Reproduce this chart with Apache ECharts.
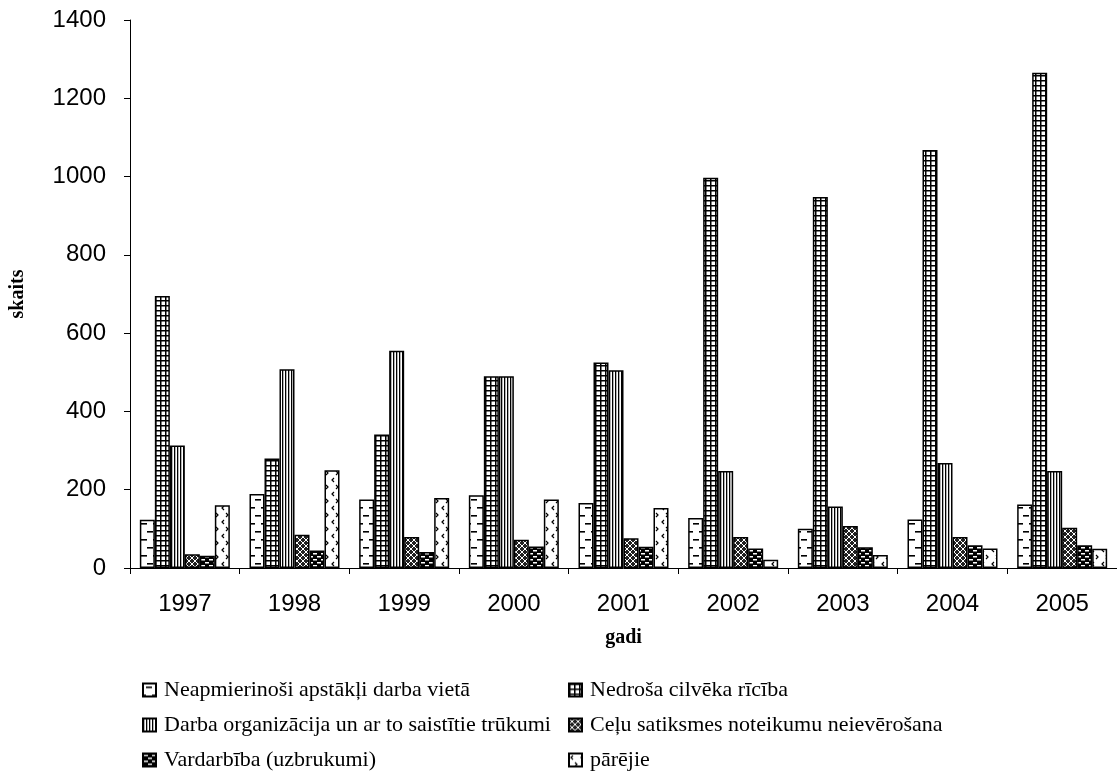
<!DOCTYPE html>
<html>
<head>
<meta charset="utf-8">
<script src="https://cdn.jsdelivr.net/npm/echarts@6/dist/echarts.min.js"></script>
<style>
  html, body { margin: 0; padding: 0; background: #fff; }
  #chart { width: 1117px; height: 783px; }
</style>
</head>
<body>
<div id="chart"></div>
<script>
// ---- data ----
const years = ['1997', '1998', '1999', '2000', '2001', '2002', '2003', '2004', '2005'];
const seriesNames = [
  'Neapmierinoši apstākļi darba vietā',
  'Nedroša cilvēka rīcība',
  'Darba organizācija un ar to saistītie trūkumi',
  'Ceļu satiksmes noteikumu neievērošana',
  'Vardarbība (uzbrukumi)',
  'pārējie'
];
const neapmierinosi = [123, 189, 175, 186, 166, 128, 100, 124, 162];
const nedrosa       = [695, 280, 341, 490, 525, 997, 948, 1068, 1265];
const darbaOrg      = [313, 508, 555, 490, 505, 248, 157, 268, 248];
const celu          = [35, 85, 79, 72, 76, 79, 107, 79, 103];
const vardarbiba    = [31, 45, 41, 55, 54, 50, 53, 58, 58];
const parejie       = [160, 250, 179, 175, 153, 21, 33, 50, 49];
const yTicks = [0, 200, 400, 600, 800, 1000, 1200, 1400];

// ---- patterns ----
function tile(w, h, draw) {
  const c = document.createElement('canvas');
  c.width = w; c.height = h;
  const g = c.getContext('2d');
  draw(g, w, h);
  return { image: c, repeat: 'repeat' };
}
const patDash = tile(12, 16, (g) => {
  g.fillStyle = '#fff'; g.fillRect(0, 0, 12, 16);
  g.fillStyle = '#000';
  g.fillRect(3, 3, 6, 1.6);
  g.fillRect(0, 11, 3, 1.6);
  g.fillRect(9, 11, 3, 1.6);
});
const patGrid = tile(5, 5, (g) => {
  g.fillStyle = '#fff'; g.fillRect(0, 0, 5, 5);
  g.fillStyle = '#000';
  g.fillRect(0, 0, 5, 1.5);
  g.fillRect(0, 0, 1.5, 5);
});
const patVert = tile(3, 4, (g) => {
  g.fillStyle = '#fff'; g.fillRect(0, 0, 3, 4);
  g.fillStyle = '#000';
  g.fillRect(0, 0, 1.3, 4);
});
const patCross = tile(6, 6, (g) => {
  g.fillStyle = '#222'; g.fillRect(0, 0, 6, 6);
  g.strokeStyle = '#fff'; g.lineWidth = 1;
  g.beginPath();
  g.moveTo(0, 0); g.lineTo(6, 6);
  g.moveTo(6, 0); g.lineTo(0, 6);
  g.stroke();
});
const patBrick = tile(8, 6, (g) => {
  g.fillStyle = '#000'; g.fillRect(0, 0, 8, 6);
  g.fillStyle = '#fff';
  g.fillRect(1, 1, 4, 1.5);
  g.fillRect(5, 4, 3, 1.5);
  g.fillRect(0, 4, 1, 1.5);
});
const patArrow = tile(10, 14, (g) => {
  g.fillStyle = '#fff'; g.fillRect(0, 0, 10, 14);
  g.strokeStyle = '#000'; g.lineWidth = 1.2;
  g.beginPath();
  g.moveTo(4, 2); g.lineTo(2, 4); g.lineTo(4, 6);
  g.moveTo(6, 9); g.lineTo(8, 11); g.lineTo(6, 13);
  g.stroke();
});
const patterns = [patDash, patGrid, patVert, patCross, patBrick, patArrow];
const values = [neapmierinosi, nedrosa, darbaOrg, celu, vardarbiba, parejie];

const serif = '"Liberation Serif", "Times New Roman", serif';
const sans = '"Liberation Sans", Arial, sans-serif';

const chart = echarts.init(document.getElementById('chart'), null, { renderer: 'canvas' });
chart.setOption({
  backgroundColor: '#fff',
  animation: false,
  grid: { left: 124, top: 20, width: 996, height: 548, containLabel: false },
  xAxis: {
    type: 'category',
    data: years,
    name: 'gadi',
    nameLocation: 'middle',
    nameGap: 60,
    nameTextStyle: { fontFamily: serif, fontWeight: 'bold', fontSize: 20, color: '#000', verticalAlign: 'top' },
    axisLine: { lineStyle: { color: '#000', width: 1 } },
    axisTick: { show: true, length: 6, lineStyle: { color: '#000' } },
    axisLabel: { fontFamily: sans, fontSize: 24, color: '#000', margin: 24 }
  },
  yAxis: {
    type: 'value',
    min: 0, max: 1400, interval: 200,
    name: 'skaits',
    nameLocation: 'middle',
    nameGap: 102,
    nameTextStyle: { fontFamily: serif, fontWeight: 'bold', fontSize: 20, color: '#000' },
    axisLine: { show: true, lineStyle: { color: '#000', width: 1 } },
    axisTick: { show: true, length: 6, lineStyle: { color: '#000' } },
    splitLine: { show: false },
    axisLabel: { fontFamily: sans, fontSize: 24, color: '#000', margin: 24,
      formatter: (v) => yTicks.includes(v) ? String(v) : '' }
  },
  legend: [
    {
      data: [seriesNames[0], seriesNames[2], seriesNames[4]],
      orient: 'vertical', left: 137, top: 674, itemGap: 13,
      itemWidth: 13, itemHeight: 13, icon: 'rect', selectedMode: false,
      textStyle: { fontFamily: serif, fontSize: 22, color: '#000', lineHeight: 22, padding: [0, 0, 0, 3] }
    },
    {
      data: [seriesNames[1], seriesNames[3], seriesNames[5]],
      orient: 'vertical', left: 563, top: 674, itemGap: 13,
      itemWidth: 13, itemHeight: 13, icon: 'rect', selectedMode: false,
      textStyle: { fontFamily: serif, fontSize: 22, color: '#000', lineHeight: 22, padding: [0, 0, 0, 3] }
    }
  ],
  series: seriesNames.map((n, i) => ({
    name: n,
    type: 'bar',
    data: values[i],
    barWidth: 15,
    barGap: '0%',
    itemStyle: { color: patterns[i], borderColor: '#000', borderWidth: 1.5 },
    emphasis: { disabled: true }
  }))
});
</script>
</body>
</html>
